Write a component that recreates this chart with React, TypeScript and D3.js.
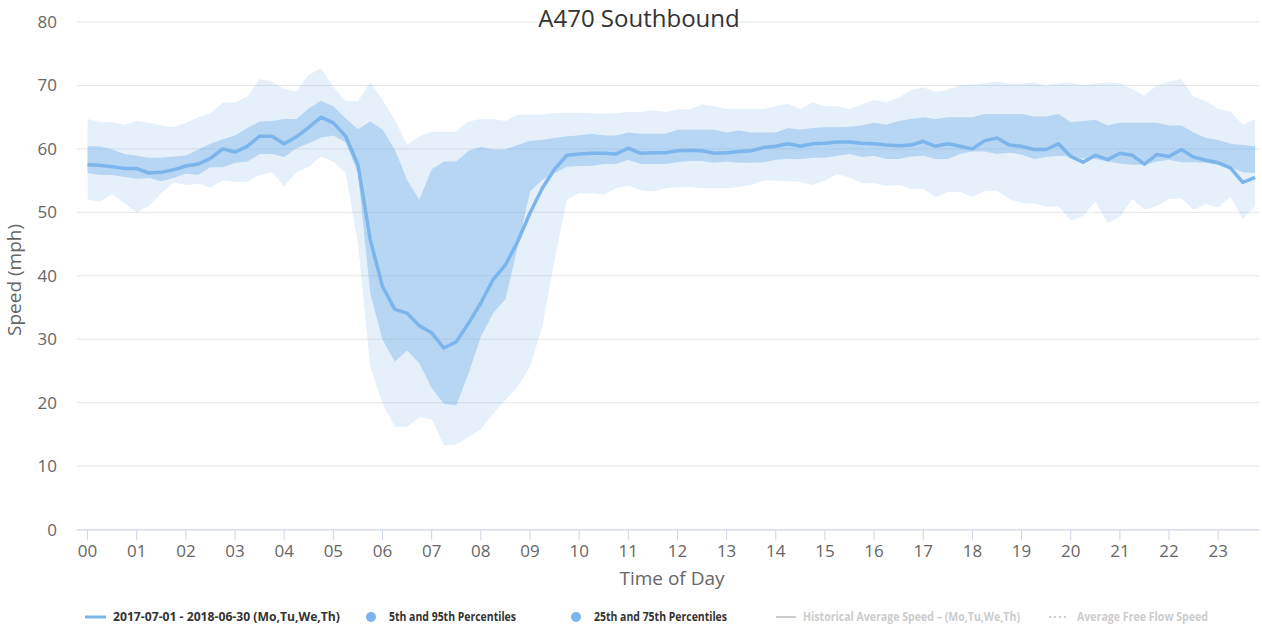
import * as d3 from "d3";

// 15-minute slots, 00:00 .. 23:45 (hours as decimals)
const slots = d3.range(96).map((i) => i / 4);
const hourLabels = d3.range(24).map((h) => String(h).padStart(2, "0"));
const yTicks = [0, 10, 20, 30, 40, 50, 60, 70, 80];

const meanSpeed = [
  57.5, 57.4, 57.2, 56.9, 56.9, 56.2, 56.3, 56.7, 57.3, 57.6, 58.5, 60.0,
  59.5, 60.4, 62.0, 62.0, 60.8, 61.9, 63.4, 65.0, 64.1, 62.0, 57.5, 45.7,
  38.3, 34.7, 34.1, 32.1, 31.0, 28.6, 29.6, 32.5, 35.7, 39.4, 41.7, 45.4,
  49.9, 53.8, 56.8, 59.0, 59.2, 59.3, 59.3, 59.2, 60.1, 59.3, 59.4, 59.4,
  59.7, 59.8, 59.7, 59.3, 59.4, 59.6, 59.7, 60.2, 60.4, 60.8, 60.4, 60.8,
  60.9, 61.1, 61.1, 60.9, 60.8, 60.6, 60.5, 60.6, 61.2, 60.4, 60.8, 60.4,
  60.0, 61.3, 61.7, 60.6, 60.4, 59.9, 59.9, 60.8, 58.8, 57.9, 59.0, 58.3,
  59.3, 59.0, 57.6, 59.1, 58.8, 59.9, 58.7, 58.2, 57.8, 57.0, 54.7, 55.5,
];

const p75 = [
  60.4, 60.4, 59.9, 59.2, 58.9, 58.6, 58.6, 58.8, 58.9, 59.9, 60.8, 61.5,
  62.1, 63.3, 64.3, 64.4, 64.7, 64.7, 66.4, 67.6, 66.7, 64.8, 63.1, 64.3,
  63.0, 59.9, 55.1, 52.0, 56.8, 58.0, 58.0, 59.7, 60.3, 59.9, 59.9, 60.6,
  61.3, 61.4, 61.7, 62.0, 62.1, 62.4, 62.1, 62.1, 62.6, 62.4, 62.4, 62.4,
  63.0, 63.0, 63.0, 63.0, 62.6, 62.9, 62.6, 62.6, 62.6, 63.3, 63.0, 63.3,
  63.4, 63.4, 63.5, 63.7, 64.1, 63.8, 64.4, 64.7, 65.0, 64.7, 65.0, 65.0,
  65.0, 65.5, 65.5, 65.5, 65.5, 65.1, 65.1, 65.5, 64.2, 64.4, 64.6, 63.7,
  64.1, 64.1, 64.1, 64.1, 63.7, 63.7, 62.6, 61.7, 61.4, 60.8, 60.6, 60.4,
];

const p25 = [
  56.2, 55.9, 55.9, 55.6, 55.3, 55.4, 54.9, 55.4, 56.1, 55.9, 57.1, 57.1,
  57.8, 58.0, 59.2, 59.2, 58.7, 60.1, 60.9, 61.8, 62.1, 61.0, 56.2, 37.3,
  29.9, 26.5, 28.2, 26.2, 22.3, 19.8, 19.6, 24.6, 30.4, 34.1, 36.3, 44.6,
  53.3, 55.1, 56.2, 57.2, 57.3, 57.3, 57.6, 57.6, 58.3, 57.6, 57.6, 57.6,
  57.9, 58.1, 58.1, 57.8, 58.0, 57.8, 57.8, 57.9, 58.3, 58.4, 58.4, 58.6,
  58.6, 58.9, 59.2, 58.7, 58.9, 58.4, 58.4, 58.8, 58.9, 58.4, 58.4, 59.2,
  59.6, 59.6, 59.2, 59.4, 59.1, 58.4, 58.7, 58.9, 58.8, 58.5, 58.4, 58.0,
  57.7, 57.5, 57.5, 58.0, 58.3, 57.9, 57.9, 57.8, 57.5, 57.1, 56.3, 56.2,
];

const p95 = [
  64.7, 64.2, 64.2, 63.8, 64.4, 64.1, 63.7, 63.4, 64.1, 65.0, 65.6, 67.3,
  67.3, 68.3, 71.0, 70.6, 69.4, 69.1, 71.7, 72.7, 69.8, 67.5, 67.5, 70.5,
  67.7, 64.6, 60.6, 62.0, 62.7, 62.7, 62.7, 64.3, 64.7, 64.7, 64.4, 65.4,
  65.4, 65.4, 65.6, 65.7, 65.7, 65.6, 65.6, 65.6, 65.8, 65.8, 66.1, 65.8,
  66.2, 66.2, 67.0, 66.7, 66.3, 66.3, 66.3, 66.3, 66.7, 67.1, 66.3, 67.3,
  66.7, 66.7, 66.3, 67.0, 67.7, 67.3, 68.1, 69.2, 69.7, 69.0, 69.3, 70.1,
  70.1, 70.4, 70.6, 70.3, 70.3, 70.5, 70.0, 70.3, 70.5, 70.0, 70.3, 70.5,
  70.3, 69.4, 68.4, 70.0, 70.6, 71.0, 68.2, 67.5, 66.3, 65.9, 63.8, 64.7,
];

const p5 = [
  52.0, 51.7, 52.9, 51.4, 50.0, 51.0, 53.0, 54.7, 54.3, 54.5, 53.9, 55.0,
  54.8, 54.8, 55.9, 56.3, 54.1, 56.3, 57.2, 58.8, 58.0, 56.2, 45.0, 25.7,
  19.9, 16.2, 16.2, 17.7, 17.4, 13.3, 13.4, 14.6, 15.8, 18.3, 20.4, 22.5,
  25.7, 32.0, 42.5, 52.0, 53.0, 53.0, 52.8, 53.8, 54.2, 53.5, 53.3, 53.8,
  54.0, 54.0, 53.8, 53.8, 53.8, 54.0, 54.3, 55.0, 55.0, 54.9, 54.8, 54.3,
  55.0, 56.0, 55.5, 54.6, 54.6, 54.2, 54.3, 53.7, 53.7, 52.4, 53.2, 53.2,
  52.4, 53.4, 53.4, 52.1, 51.5, 51.4, 50.9, 50.9, 48.7, 49.4, 51.7, 48.3,
  49.3, 52.1, 50.4, 51.0, 52.1, 52.2, 50.4, 51.3, 50.8, 52.5, 48.9, 51.0,
];

const width = 1262;
const height = 627;
const plotLeft = 77;
const plotRight = 1259;
const plotTop = 22;
const plotBottom = 529.5;
const font = "'Open Sans', 'DejaVu Sans', sans-serif";
const blue = "#7cb5ec";

export default function App() {
  const x = d3.scaleLinear([-0.215, 23.83], [plotLeft, plotRight]);
  const y = d3.scaleLinear([0, 80], [plotBottom, plotTop]);

  const band = (lo: number[], hi: number[]) =>
    d3
      .area<number>()
      .x((d) => x(d))
      .y0((_, i) => y(lo[i]))
      .y1((_, i) => y(hi[i]))(slots) ?? "";

  const line = d3
    .line<number>()
    .x((d) => x(d))
    .y((_, i) => y(meanSpeed[i]))(slots) ?? "";

  return (
    <svg
      width={width}
      height={height}
      style={{ position: "absolute", left: 0, top: 0, fontFamily: font }}
    >
      <rect width={width} height={height} fill="#fff" />

      {/* grid */}
      {yTicks.map((t) => (
        <g key={t}>
          <line x1={plotLeft} x2={plotRight} y1={y(t)} y2={y(t)} stroke="#e6e6e6" />
          <text x={57} y={y(t) + 6} textAnchor="end" fontSize={17} fill="#666">
            {t}
          </text>
        </g>
      ))}

      {/* bands */}
      <path d={band(p5, p95)} fill={blue} fillOpacity={0.2} />
      <path d={band(p25, p75)} fill={blue} fillOpacity={0.45} />
      <path d={line} fill="none" stroke={blue} strokeWidth={3.5} strokeLinejoin="round" />

      {/* x axis */}
      <line x1={plotLeft} x2={plotRight} y1={plotBottom + 0.5} y2={plotBottom + 0.5} stroke="#ccd6eb" />
      {hourLabels.map((lab, h) => (
        <g key={lab}>
          <line x1={x(h)} x2={x(h)} y1={plotBottom} y2={plotBottom + 11} stroke="#ccd6eb" />
          <text x={x(h)} y={557} textAnchor="middle" fontSize={17} fill="#666">
            {lab}
          </text>
        </g>
      ))}

      <text x={672} y={585} textAnchor="middle" fontSize={19} fill="#666">
        Time of Day
      </text>
      <text
        transform={`translate(21,280) rotate(-90)`}
        textAnchor="middle"
        fontSize={19}
        fill="#666"
      >
        Speed (mph)
      </text>

      <text x={639} y={27} textAnchor="middle" fontSize={24} fill="#333">
        A470 Southbound
      </text>

      {/* legend */}
      <g fontSize={11.5} fontWeight="bold">
        <line x1={85} x2={106} y1={617} y2={617} stroke={blue} strokeWidth={3} />
        <text x={113} y={621} fill="#333" textLength={227} lengthAdjust="spacingAndGlyphs">
          2017-07-01 - 2018-06-30 (Mo,Tu,We,Th)
        </text>
        <circle cx={371} cy={617} r={5} fill={blue} />
        <text x={389} y={621} fill="#333" textLength={127} lengthAdjust="spacingAndGlyphs">
          5th and 95th Percentiles
        </text>
        <circle cx={576} cy={617} r={5} fill={blue} />
        <text x={594} y={621} fill="#333" textLength={133} lengthAdjust="spacingAndGlyphs">
          25th and 75th Percentiles
        </text>
        <line x1={776} x2={796} y1={617} y2={617} stroke="#ccc" strokeWidth={2} />
        <text x={803} y={621} fill="#ccc" textLength={217} lengthAdjust="spacingAndGlyphs">
          Historical Average Speed – (Mo,Tu,We,Th)
        </text>
        <line x1={1049} x2={1068} y1={617} y2={617} stroke="#ccc" strokeWidth={2} strokeDasharray="2,3" />
        <text x={1077} y={621} fill="#ccc" textLength={131} lengthAdjust="spacingAndGlyphs">
          Average Free Flow Speed
        </text>
      </g>
    </svg>
  );
}
